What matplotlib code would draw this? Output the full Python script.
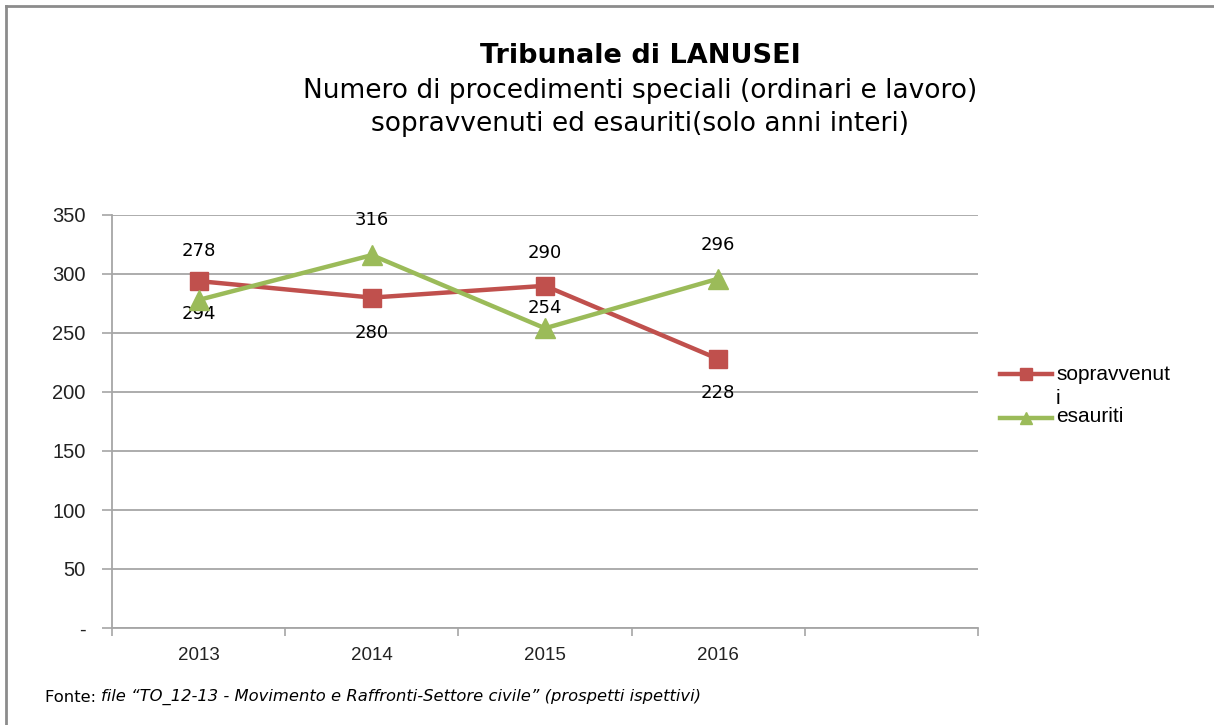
import matplotlib
matplotlib.use("Agg")
import matplotlib.pyplot as plt
from matplotlib.lines import Line2D

# ---- data ----
categories = ["2013", "2014", "2015", "2016", ""]
years = ["2013", "2014", "2015", "2016"]
sopravvenuti = [294, 280, 290, 228]
esauriti = [278, 316, 254, 296]
y_ticks = [0, 50, 100, 150, 200, 250, 300, 350]
y_tick_labels = ["-", "50", "100", "150", "200", "250", "300", "350"]
series_names = ["sopravvenut\ni", "esauriti"]

# label offsets (pixels, vertical) – style only
off_sop = [-33, -35, 33, -34]
off_esa = [49, 35, 20, 34]

RED = "#C0504D"
GREEN = "#9BBB59"
GRID = "#A6A6A6"

W, H = 1214, 725
fig = plt.figure(figsize=(W / 100, H / 100), dpi=100)
ax = fig.add_axes([112 / W, 1 - 628 / H, (978 - 112) / W, (628 - 215) / H])

x = list(range(len(years)))
ax.plot(x, sopravvenuti, color=RED, lw=3.2, marker="s", markersize=13,
        markerfacecolor=RED, markeredgecolor=RED, zorder=3)
ax.plot(x, esauriti, color=GREEN, lw=3.2, marker="^", markersize=14,
        markerfacecolor=GREEN, markeredgecolor=GREEN, zorder=4)

lab_font = dict(family="DejaVu Sans", fontsize=13, color="black")
for xi, v, o in zip(x, sopravvenuti, off_sop):
    ax.annotate(str(v), (xi, v), xytext=(0, o * 0.72), textcoords="offset points",
                ha="center", va="center", **lab_font)
for xi, v, o in zip(x, esauriti, off_esa):
    ax.annotate(str(v), (xi, v), xytext=(0, o * 0.72), textcoords="offset points",
                ha="center", va="center", **lab_font)

ax.set_xlim(-0.5, len(categories) - 0.5)
ax.set_ylim(0, 350)
ax.set_yticks(y_ticks)
ax.set_yticklabels(y_tick_labels, family="Liberation Sans", fontsize=14.5, color="#222222")
ax.set_xticks(range(len(categories)))
ax.set_xticklabels(categories, family="Liberation Sans", fontsize=13.5, color="#222222")
ax.set_xticks([i - 0.5 for i in range(len(categories) + 1)], minor=True)
ax.tick_params(axis="x", which="major", length=0, pad=14)
ax.tick_params(axis="x", which="minor", length=6, color=GRID, width=1.2, direction="out")
ax.tick_params(axis="y", length=7, color=GRID, width=1.2, direction="out", pad=12)

ax.grid(axis="y", color=GRID, lw=1.3)
ax.set_axisbelow(True)
for s in ["top", "right"]:
    ax.spines[s].set_visible(False)
for s in ["left", "bottom"]:
    ax.spines[s].set_color(GRID)
    ax.spines[s].set_linewidth(1.3)

# title
fig.text(640 / W, 1 - 56 / H, "Tribunale di LANUSEI", ha="center", va="center",
         family="DejaVu Sans", fontweight="bold", fontsize=19.5)
fig.text(640 / W, 1 - 91 / H, "Numero di procedimenti speciali (ordinari e lavoro)",
         ha="center", va="center", family="DejaVu Sans", fontsize=19)
fig.text(640 / W, 1 - 124 / H, "sopravvenuti ed esauriti(solo anni interi)",
         ha="center", va="center", family="DejaVu Sans", fontsize=19)

# legend (manual)
leg_y = [374, 418]
colors = [RED, GREEN]
markers = ["s", "^"]
for yy, c, m in zip(leg_y, colors, markers):
    fig.add_artist(Line2D([1000 / W, 1052 / W], [1 - yy / H, 1 - yy / H],
                          color=c, lw=3.2, transform=fig.transFigure))
    fig.add_artist(Line2D([1026 / W], [1 - yy / H], marker=m, markersize=8,
                          color=c, transform=fig.transFigure))
name_lines = series_names[0].split("\n")
fig.text(1056 / W, 1 - 374 / H, name_lines[0], ha="left", va="center",
         family="Liberation Sans", fontsize=15)
fig.text(1056 / W, 1 - 398 / H, name_lines[1], ha="left", va="center",
         family="Liberation Sans", fontsize=15)
fig.text(1056 / W, 1 - 416 / H, series_names[1], ha="left", va="center",
         family="Liberation Sans", fontsize=15)

# source
t1 = fig.text(45 / W, 1 - 697 / H, "Fonte: ", ha="left", va="center",
              family="DejaVu Sans", fontsize=11.8)
fig.canvas.draw()
bb = t1.get_window_extent()
fig.text(bb.x1 / W, 1 - 697 / H,
         "file \u201cTO_12-13 - Movimento e Raffronti-Settore civile\u201d (prospetti ispettivi)",
         ha="left", va="center", family="DejaVu Sans", style="italic", fontsize=11.8)

# outer border (top & left only, as in the cropped reference)
fig.add_artist(Line2D([6 / W, 1], [1 - 6 / H, 1 - 6 / H], color="#8C8C8C", lw=2,
                      transform=fig.transFigure))
fig.add_artist(Line2D([6 / W, 6 / W], [0, 1 - 6 / H], color="#8C8C8C", lw=2,
                      transform=fig.transFigure))

fig.savefig("out.png", dpi=100)
